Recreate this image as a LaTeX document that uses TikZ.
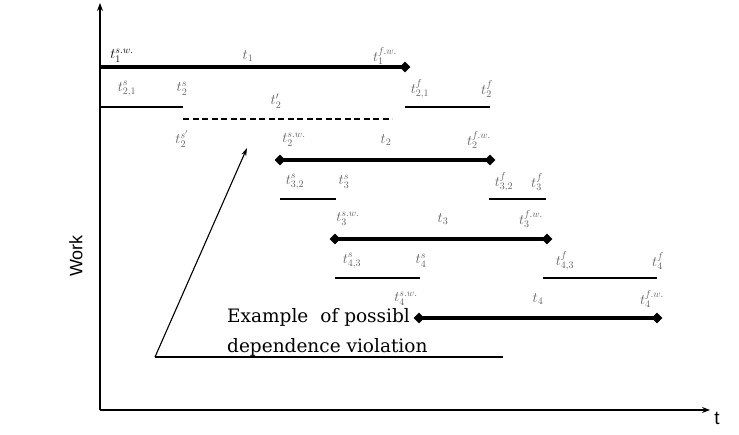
\documentclass[tikz,border=0pt]{standalone}
\usepackage{fontspec}
\newfontfamily\exfont{DejaVu Serif}
\newfontfamily\axfont{Liberation Sans}
\usetikzlibrary{arrows.meta,shapes.geometric}
\tikzset{
  axisline/.style={line width=1.2pt,-{Stealth[length=8pt,width=6pt]}},
  thickbar/.style={line width=3.6pt},
  thinbar/.style={line width=1.1pt},
  depline/.style={line width=1.3pt,dash pattern=on 6pt off 3.5pt},
  dia/.style={diamond,fill=black,inner sep=0pt,minimum size=11pt},
  lab/.style={text=gray!75!black,font=\fontsize{14.5}{16}\selectfont,inner sep=0pt},
  blab/.style={text=black,font=\fontsize{14.5}{16}\selectfont,inner sep=0pt},
  extext/.style={font=\exfont\fontsize{18.5}{21}\selectfont,inner sep=0pt,anchor=base west},
  pointer/.style={line width=1.1pt,-{Stealth[length=8pt,width=5pt]}}
}
\begin{document}
\begin{tikzpicture}[x=1pt,y=-1pt]
\useasboundingbox (0,0) rectangle (739,435);
% axes
\coordinate (O) at (100,410);
\coordinate (ytop) at (100,3);
\coordinate (xend) at (710,410);
\draw[axisline] (O) -- (ytop);
\draw[axisline] (O) -- (xend);
\node[font=\axfont\fontsize{19}{21}\selectfont,anchor=center] (tlab) at (717,418) {t};
\node[font=\axfont\fontsize{18}{20}\selectfont,rotate=90] (worklab) at (76,256) {Work};

% example text and pointer
\node[extext] (ex1) at (227,323) {Example\hspace{12pt}of possibl};
\node[extext] (ex2) at (227,353) {dependence violation};
\coordinate (u1) at (155,357);
\coordinate (u2) at (503,357);
\coordinate (ptip) at (247,148);
\draw[thinbar] (u1) -- (u2);
\draw[pointer] (u1) -- (ptip);

% row 1
\coordinate (r1s) at (100,67);
\node[dia] (r1e) at (405,67) {};
\draw[thickbar] (r1s) -- (r1e.center);
\node[blab] (l1a) at (122,56) {$t_1^{s.w.}$};
\node[lab] (l1b) at (248,56) {$t_1$};
\node[lab] (l1c) at (385,56) {$t_1^{f.w.}$};
\node[lab] (s1a) at (127,89) {$t_{2,1}^{s}$};
\node[lab] (s1b) at (182,89) {$t_{2}^{s}$};
\node[lab] (s1c) at (420,89) {$t_{2,1}^{f}$};
\node[lab] (s1d) at (487,89) {$t_{2}^{f}$};
\coordinate (a1) at (100,107);
\coordinate (a2) at (183,107);
\coordinate (a3) at (405,107);
\coordinate (a4) at (490,107);
\draw[thinbar] (a1) -- (a2);
\draw[thinbar] (a3) -- (a4);
% dashed
\coordinate (d1) at (183,119);
\coordinate (d2) at (392,119);
\draw[depline] (d1) -- (d2);
\node[lab] (dl1) at (276,101) {$t_2'$};
\node[lab] (dl2) at (182,139) {$t_2^{s'}$};

% row 2
\node[dia] (r2s) at (280,160) {};
\node[dia] (r2e) at (490,160) {};
\draw[thickbar] (r2s.center) -- (r2e.center);
\node[lab] (l2a) at (294,140) {$t_2^{s.w.}$};
\node[lab] (l2b) at (386,140) {$t_2$};
\node[lab] (l2c) at (479,140) {$t_2^{f.w.}$};
\node[lab] (s2a) at (295,182) {$t_{3,2}^{s}$};
\node[lab] (s2b) at (344,182) {$t_{3}^{s}$};
\node[lab] (s2c) at (504,182) {$t_{3,2}^{f}$};
\node[lab] (s2d) at (537,182) {$t_{3}^{f}$};
\coordinate (b1) at (280,199);
\coordinate (b2) at (336,199);
\coordinate (b3) at (489,199);
\coordinate (b4) at (546,199);
\draw[thinbar] (b1) -- (b2);
\draw[thinbar] (b3) -- (b4);

% row 3
\node[dia] (r3s) at (335,239) {};
\node[dia] (r3e) at (547,239) {};
\draw[thickbar] (r3s.center) -- (r3e.center);
\node[lab] (l3a) at (348,219) {$t_3^{s.w.}$};
\node[lab] (l3b) at (443,219) {$t_3$};
\node[lab] (l3c) at (531,219) {$t_3^{f.w.}$};
\node[lab] (s3a) at (352,261) {$t_{4,3}^{s}$};
\node[lab] (s3b) at (421,261) {$t_{4}^{s}$};
\node[lab] (s3c) at (565,261) {$t_{4,3}^{f}$};
\node[lab] (s3d) at (658,261) {$t_{4}^{f}$};
\coordinate (c1) at (335,278);
\coordinate (c2) at (420,278);
\coordinate (c3) at (543,278);
\coordinate (c4) at (657,278);
\draw[thinbar] (c1) -- (c2);
\draw[thinbar] (c3) -- (c4);

% row 4
\node[dia] (r4s) at (419,318) {};
\node[dia] (r4e) at (657,318) {};
\draw[thickbar] (r4s.center) -- (r4e.center);
\node[lab] (l4a) at (406,299) {$t_4^{s.w.}$};
\node[lab] (l4b) at (538,299) {$t_4$};
\node[lab] (l4c) at (652,299) {$t_4^{f.w.}$};
\end{tikzpicture}
\end{document}
